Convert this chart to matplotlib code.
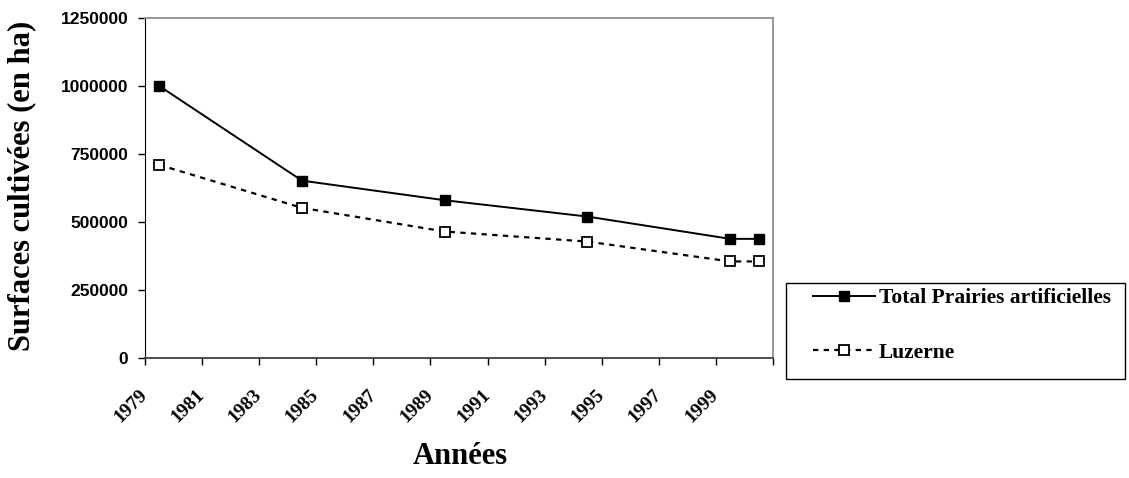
import numpy as np
import matplotlib
matplotlib.use("Agg")
import matplotlib.pyplot as plt
from matplotlib.patches import Rectangle

# Data (surfaces in ha)
annees = np.array([1979, 1984, 1989, 1994, 1999, 2000])
total_prairies = [1000000, 652000, 580000, 520000, 438000, 438000]
luzerne = [710000, 552000, 465000, 428000, 355000, 355000]

tick_years = list(range(1979, 2002, 2))
tick_labels = [str(y) for y in tick_years[:-1]] + [""]
y_ticks = [0, 250000, 500000, 750000, 1000000, 1250000]

serif = "Liberation Serif"
sans = "Liberation Sans"
W, H = 1129, 478

fig = plt.figure(figsize=(W / 100, H / 100), dpi=100)
ax = fig.add_axes([145 / W, 1 - 358 / H, 628 / W, 340 / H])

# Excel date axis: each point sits in the middle of its year
xs = annees + 0.5
ax.plot(xs, total_prairies, color="black", lw=1.4, marker="s", ms=7,
        mfc="black", mec="black", label="Total Prairies artificielles")
ax.plot(xs, luzerne, color="black", lw=1.6, ls=(0, (2.4, 2.4)), marker="s", ms=6.5,
        mfc="white", mec="black", mew=1.3, label="Luzerne")

ax.set_xlim(1979, 2001)
ax.set_ylim(0, 1250000)
ax.set_xticks(tick_years)
ax.set_xticklabels(tick_labels, fontfamily=serif, fontweight="bold", fontsize=14,
                   rotation=45, ha="right", va="center", rotation_mode="anchor")
ax.set_yticks(y_ticks)
ax.set_yticklabels([str(v) for v in y_ticks], fontfamily=sans, fontweight="bold",
                   fontsize=12.5)
ax.tick_params(axis="x", direction="out", length=5, width=1, pad=20)
ax.tick_params(axis="y", direction="out", length=5, width=1, pad=7)

ax.spines["left"].set_color("black")
ax.spines["bottom"].set_color("#404040")
ax.spines["bottom"].set_linewidth(1.3)
for s in ["top", "right"]:
    ax.spines[s].set_color("#909090")
    ax.spines[s].set_linewidth(1.3)

fig.text(22 / W, 1 - 186 / H, "Surfaces cultivées (en ha)", rotation=90,
         ha="center", va="center", fontfamily=serif, fontweight="bold", fontsize=22)
fig.text(460 / W, 1 - 456 / H, "Années", ha="center", va="center",
         fontfamily=serif, fontweight="bold", fontsize=22)

# legend box outside the plot, on the right
fig.patches.append(Rectangle((786 / W, 1 - 379 / H), 339 / W, 96 / H,
                             transform=fig.transFigure, fill=False,
                             edgecolor="black", lw=1))
ax.legend(loc="upper left", bbox_to_anchor=(813 / W, 1 - 288 / H),
          bbox_transform=fig.transFigure, frameon=False, borderpad=0,
          borderaxespad=0, handlelength=2.9, handletextpad=0.15,
          labelspacing=1.6,
          prop={"family": serif, "weight": "bold", "size": 15.5})

fig.savefig("out.png", dpi=100)
